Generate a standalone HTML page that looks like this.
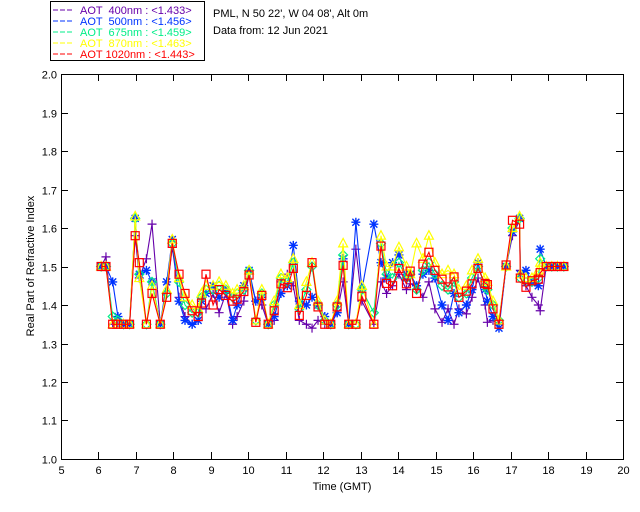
<!DOCTYPE html>
<html><head><meta charset="utf-8"><style>
body{margin:0;background:#fff;}
svg{display:block;font-family:"Liberation Sans",sans-serif;}
</style></head><body>
<svg id="chart" width="640" height="512">
<rect x="0" y="0" width="640" height="512" fill="#fff"/>
<g id="legend">
<rect x="50.5" y="1.5" width="154" height="59" fill="#fff" stroke="#000"/>
</g>
<text x="213" y="17" font-size="11">PML, N 50 22', W 04 08', Alt 0m</text>
<text x="213" y="34" font-size="11">Data from: 12 Jun 2021</text>
<g id="axes"></g>
<g id="series"></g>
</svg>
<script>
const times=[6.07,6.2,6.38,6.52,6.67,6.83,6.98,7.09,7.28,7.43,7.65,7.82,7.97,8.15,8.31,8.5,8.66,8.75,8.87,9.06,9.22,9.4,9.58,9.7,9.88,10.02,10.2,10.36,10.53,10.69,10.87,11.04,11.2,11.36,11.55,11.7,11.86,12.04,12.2,12.37,12.53,12.68,12.87,13.03,13.35,13.54,13.69,13.85,14.02,14.22,14.32,14.49,14.66,14.82,14.98,15.17,15.33,15.49,15.62,15.82,15.97,16.13,16.32,16.38,16.53,16.69,16.88,17.05,17.24,17.26,17.41,17.57,17.74,17.79,17.95,18.1,18.25,18.42];
const red1020=[1.5,1.5,1.35,1.35,1.35,1.35,1.58,1.51,1.35,1.43,1.35,1.42,1.56,1.48,1.43,1.385,1.37,1.405,1.48,1.40,1.44,1.425,1.41,1.415,1.435,1.478,1.355,1.425,1.35,1.385,1.455,1.445,1.495,1.373,1.425,1.51,1.395,1.35,1.35,1.395,1.503,1.35,1.35,1.423,1.35,1.553,1.456,1.45,1.495,1.455,1.488,1.43,1.506,1.537,1.49,1.467,1.447,1.473,1.42,1.436,1.455,1.495,1.456,1.453,1.39,1.35,1.504,1.62,1.61,1.47,1.446,1.463,1.467,1.484,1.5,1.5,1.5,1.5];
const yellow870=[1.5,1.5,1.35,1.35,1.35,1.35,1.63,1.47,1.35,1.45,1.35,1.44,1.57,1.47,1.42,1.40,1.39,1.43,1.45,1.45,1.46,1.45,1.43,1.44,1.45,1.49,1.36,1.44,1.35,1.41,1.48,1.47,1.52,1.40,1.46,1.51,1.41,1.36,1.35,1.41,1.56,1.35,1.35,1.45,1.35,1.58,1.50,1.50,1.55,1.50,1.48,1.56,1.52,1.58,1.51,1.48,1.49,1.48,1.44,1.45,1.49,1.52,1.47,1.46,1.41,1.36,1.50,1.60,1.63,1.48,1.47,1.47,1.49,1.51,1.5,1.5,1.5,1.5];
const green675=[1.5,1.5,1.37,1.36,1.35,1.35,1.625,1.48,1.35,1.46,1.35,1.43,1.56,1.46,1.40,1.38,1.38,1.42,1.44,1.44,1.45,1.44,1.42,1.43,1.44,1.49,1.36,1.43,1.35,1.40,1.47,1.46,1.51,1.39,1.44,1.50,1.40,1.36,1.35,1.40,1.53,1.35,1.35,1.44,1.38,1.56,1.48,1.47,1.51,1.47,1.48,1.44,1.49,1.51,1.48,1.45,1.44,1.46,1.42,1.43,1.47,1.50,1.45,1.44,1.40,1.36,1.50,1.60,1.625,1.47,1.46,1.46,1.47,1.52,1.5,1.5,1.5,1.5];
const blue500=[1.5,1.5,1.46,1.37,1.35,1.35,1.625,1.48,1.49,1.46,1.35,1.46,1.57,1.41,1.36,1.35,1.36,1.41,1.43,1.45,1.42,1.44,1.36,1.40,1.45,1.49,1.41,1.42,1.35,1.37,1.43,1.45,1.555,1.41,1.40,1.42,1.40,1.37,1.35,1.38,1.52,1.35,1.615,1.44,1.61,1.51,1.47,1.51,1.53,1.47,1.48,1.45,1.48,1.49,1.47,1.40,1.36,1.43,1.38,1.40,1.44,1.51,1.44,1.41,1.37,1.34,1.50,1.59,1.625,1.48,1.49,1.46,1.45,1.545,1.5,1.5,1.5,1.5];
const purple400=[1.5,1.525,1.35,1.35,1.35,1.35,1.58,1.47,1.52,1.61,1.35,1.43,1.55,1.42,1.37,1.35,1.36,1.39,1.39,1.43,1.38,1.43,1.35,1.37,1.41,1.48,1.41,1.40,1.35,1.36,1.46,1.48,1.45,1.36,1.35,1.34,1.36,1.35,1.35,1.38,1.46,1.35,1.545,1.41,1.35,1.46,1.43,1.45,1.48,1.44,1.455,1.45,1.42,1.46,1.39,1.355,1.39,1.35,1.39,1.377,1.42,1.47,1.40,1.355,1.36,1.35,1.50,1.58,1.62,1.49,1.45,1.42,1.40,1.385,1.5,1.5,1.5,1.5];
const xTicks=[5,6,7,8,9,10,11,12,13,14,15,16,17,18,19,20];
const yTicks=[1.0,1.1,1.2,1.3,1.4,1.5,1.6,1.7,1.8,1.9,2.0];
const legendLabels=["AOT  400nm : <1.433>","AOT  500nm : <1.456>","AOT  675nm : <1.459>","AOT  870nm : <1.463>","AOT 1020nm : <1.443>"];

const NS="http://www.w3.org/2000/svg";
const X0=61,X1=623,Y0=459,Y1=74;
function xs(t){return X0+(t-5)/(20-5)*(X1-X0);}
function ys(v){return Y0-(v-1)/(2-1)*(Y0-Y1);}
function mk(tag,attrs,parent){const e=document.createElementNS(NS,tag);for(const k in attrs)e.setAttribute(k,attrs[k]);parent.appendChild(e);return e;}
const axes=document.getElementById('axes');
const plot=mk('rect',{x:X0+.5,y:Y1+.5,width:X1-X0,height:Y0-Y1,fill:'none',stroke:'#000'},axes);


xTicks.forEach(t=>{const x=Math.round(xs(t))+.5;
mk('line',{x1:x,x2:x,y1:Y0,y2:Y0-7,stroke:'#000'},axes);
mk('line',{x1:x,x2:x,y1:Y1,y2:Y1+7,stroke:'#000'},axes);
const tx=mk('text',{x:x,y:Y0+15,'font-size':11,'text-anchor':'middle'},axes);tx.textContent=t;

});
yTicks.forEach(v=>{const y=Math.round(ys(v))+.5;
mk('line',{x1:X0,x2:X0+7,y1:y,y2:y,stroke:'#000'},axes);
mk('line',{x1:X1,x2:X1-7,y1:y,y2:y,stroke:'#000'},axes);
const tx=mk('text',{x:X0-4,y:y+4,'font-size':11,'text-anchor':'end'},axes);tx.textContent=v.toFixed(1);

});
const xt=mk('text',{x:(X0+X1)/2,y:490,'font-size':11,'text-anchor':'middle'},axes);xt.textContent='Time (GMT)';


const yt=mk('text',{x:0,y:0,'font-size':11,'text-anchor':'middle',transform:'translate(34,266) rotate(-90)'},axes);yt.textContent='Real Part of Refractive Index';



const series=[{v:purple400,c:'#6600aa',m:'plus'},{v:blue500,c:'#0033ff',m:'star'},{v:green675,c:'#00ee88',m:'diamond'},{v:yellow870,c:'#ffff00',m:'tri'},{v:red1020,c:'#ff0000',m:'square'}];
const sg=document.getElementById('series');
function marker(m,x,y,c,g){
 if(m==='plus'){mk('path',{d:`M${x-4.5} ${y}H${x+4.5}M${x} ${y-4.5}V${y+4.5}`,stroke:c,fill:'none','stroke-width':1.2},g);}
 else if(m==='star'){mk('path',{d:`M${x-4.5} ${y}H${x+4.5}M${x} ${y-4.5}V${y+4.5}M${x-3.5} ${y-3.5}L${x+3.5} ${y+3.5}M${x-3.5} ${y+3.5}L${x+3.5} ${y-3.5}`,stroke:c,fill:'none','stroke-width':1.4},g);}
 else if(m==='diamond'){mk('path',{d:`M${x} ${y-4.5}L${x+4.5} ${y}L${x} ${y+4.5}L${x-4.5} ${y}Z`,stroke:c,fill:'none','stroke-width':1.2},g);}
 else if(m==='tri'){mk('path',{d:`M${x} ${y-5}L${x+4.5} ${y+3.5}L${x-4.5} ${y+3.5}Z`,stroke:c,fill:'none','stroke-width':1.2},g);}
 else {mk('rect',{x:x-4,y:y-4,width:8,height:8,stroke:c,fill:'none','stroke-width':1.2},g);}
}
series.forEach((s,i)=>{
 const g=mk('g',{},sg);
 
 
 const pts=times.map((t,j)=>xs(t).toFixed(1)+','+ys(s.v[j]).toFixed(1)).join(' ');
 mk('polyline',{points:pts,fill:'none',stroke:s.c,'stroke-width':1.1},g);
 times.forEach((t,j)=>marker(s.m,xs(t),ys(s.v[j]),s.c,g));
});
const lg=document.getElementById('legend');
legendLabels.forEach((l,i)=>{const y=10+i*11;
 const g=mk('g',{},lg);
 
 
 mk('line',{x1:53,x2:74,y1:y,y2:y,stroke:series[i].c,'stroke-dasharray':'5,2'},g);
 const t=mk('text',{x:80,y:y+4,'font-size':11,fill:series[i].c},g);t.textContent=l;
 t.setAttribute('style','white-space:pre');
});
</script>
</body></html>
